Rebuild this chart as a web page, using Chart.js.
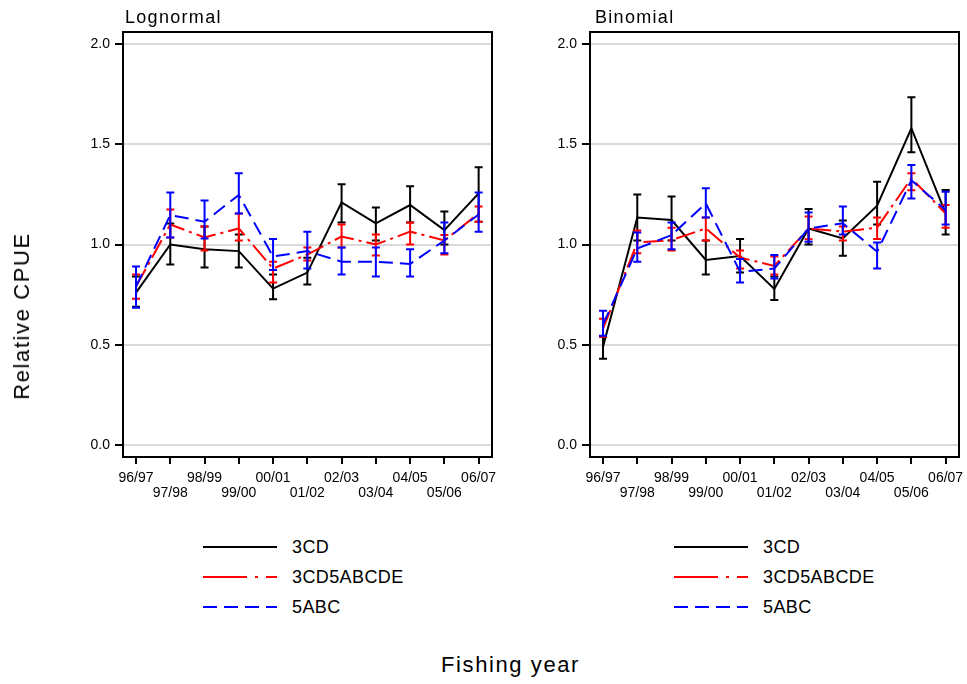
<!DOCTYPE html>
<html>
<head>
<meta charset="utf-8">
<script src="https://cdn.jsdelivr.net/npm/chart.js@4.4.1/dist/chart.umd.min.js"></script>
<style>
  body { margin: 0; background: #fff; font-family: "Liberation Sans", Arial, sans-serif; }
  #wrap { position: relative; width: 967px; height: 684px; overflow: hidden; }
  canvas { position: absolute; top: 0; }
  .panel-title { position: absolute; top: 7px; font-size: 18px; letter-spacing: 1.3px; color: #000; }
  .axis-title { position: absolute; font-size: 22px; letter-spacing: 1.6px; color: #000; white-space: nowrap; }
  .legend { position: absolute; top: 532px; }
  .legend div { height: 30px; display: flex; align-items: center; font-size: 18px; letter-spacing: 0.4px; }
  .legend svg { margin-right: 15px; }
</style>
</head>
<body>
<div id="wrap">
  <canvas id="lognormal" width="500" height="520" style="left:0"></canvas>
  <canvas id="binomial" width="500" height="520" style="left:467px"></canvas>
  <div class="panel-title" style="left:125px">Lognormal</div>
  <div class="panel-title" style="left:595px">Binomial</div>
  <div class="axis-title" style="left:441px; top:652px">Fishing year</div>
  <div class="axis-title" style="left:22px; top:316px; transform: translate(-50%, -50%) rotate(-90deg)">Relative CPUE</div>
  <div class="legend" id="legend-left" style="left:203px"></div>
  <div class="legend" id="legend-right" style="left:674px"></div>
</div>
<script>
const years = ['96/97', '97/98', '98/99', '99/00', '00/01', '01/02', '02/03', '03/04', '04/05', '05/06', '06/07'];
const yTicks = [0, 0.5, 1.0, 1.5, 2.0];
const seriesNames = ['3CD', '3CD5ABCDE', '5ABC'];
const seriesColors = ['#000000', '#ff0000', '#0000ff'];
const seriesDash = [[], [20, 5, 3, 5], [14, 7]];

// Lognormal panel
const logn3CD = [0.76, 1.00, 0.976, 0.967, 0.78, 0.86, 1.21, 1.105, 1.197, 1.072, 1.255];
const logn3CDLo = [0.69, 0.90, 0.885, 0.885, 0.727, 0.80, 1.11, 1.02, 1.11, 1.00, 1.114];
const logn3CDHi = [0.84, 1.105, 1.09, 1.05, 0.85, 0.934, 1.30, 1.185, 1.29, 1.164, 1.385];
const lognAll = [0.79, 1.10, 1.035, 1.08, 0.88, 0.95, 1.04, 1.00, 1.064, 1.02, 1.155];
const lognAllLo = [0.73, 1.035, 0.97, 1.02, 0.81, 0.92, 0.985, 0.945, 1.00, 0.95, 1.114];
const lognAllHi = [0.85, 1.175, 1.09, 1.155, 0.914, 0.985, 1.10, 1.05, 1.11, 1.047, 1.19];
const logn5ABC = [0.79, 1.147, 1.114, 1.247, 0.94, 0.967, 0.914, 0.914, 0.903, 1.02, 1.15];
const logn5ABCLo = [0.685, 1.035, 1.03, 1.155, 0.873, 0.88, 0.85, 0.84, 0.84, 0.956, 1.064];
const logn5ABCHi = [0.89, 1.26, 1.22, 1.355, 1.027, 1.064, 0.985, 0.985, 0.976, 1.11, 1.26];

// Binomial panel
const bin3CD = [0.49, 1.135, 1.122, 0.923, 0.943, 0.778, 1.08, 1.03, 1.194, 1.58, 1.155];
const bin3CDLo = [0.43, 1.02, 1.02, 0.85, 0.86, 0.723, 1.00, 0.944, 1.10, 1.46, 1.05];
const bin3CDHi = [0.54, 1.25, 1.24, 1.02, 1.027, 0.84, 1.177, 1.12, 1.313, 1.734, 1.272];
const binAll = [0.58, 1.01, 1.022, 1.08, 0.935, 0.893, 1.08, 1.064, 1.084, 1.33, 1.155];
const binAllLo = [0.54, 0.956, 0.97, 1.02, 0.88, 0.85, 1.026, 1.02, 1.027, 1.27, 1.084];
const binAllHi = [0.63, 1.07, 1.084, 1.135, 0.97, 0.94, 1.14, 1.09, 1.135, 1.355, 1.197];
const bin5ABC = [0.60, 0.98, 1.047, 1.205, 0.864, 0.88, 1.08, 1.106, 0.964, 1.32, 1.172];
const bin5ABCLo = [0.545, 0.914, 0.976, 1.135, 0.81, 0.83, 1.014, 1.05, 0.88, 1.23, 1.10];
const bin5ABCHi = [0.67, 1.06, 1.11, 1.28, 0.928, 0.948, 1.16, 1.19, 1.01, 1.397, 1.263];

const errorBars = {
  id: 'errorBars',
  afterDatasetDraw(chart, args) {
    const ds = chart.data.datasets[args.index];
    if (!ds.lo) return;
    const { ctx, scales: { x, y } } = chart;
    ctx.save();
    ctx.strokeStyle = ds.borderColor;
    ctx.lineWidth = 2;
    ctx.setLineDash([]);
    ds.lo.forEach((lo, i) => {
      const px = x.getPixelForValue(i);
      const p1 = y.getPixelForValue(lo);
      const p2 = y.getPixelForValue(ds.hi[i]);
      ctx.beginPath();
      ctx.moveTo(px, p1); ctx.lineTo(px, p2);
      ctx.moveTo(px - 4, p1); ctx.lineTo(px + 4, p1);
      ctx.moveTo(px - 4, p2); ctx.lineTo(px + 4, p2);
      ctx.stroke();
    });
    ctx.restore();
  }
};

const frame = {
  id: 'frame',
  afterDraw(chart) {
    const { ctx, chartArea: a } = chart;
    ctx.save();
    ctx.strokeStyle = '#000';
    ctx.lineWidth = 2;
    ctx.strokeRect(a.left, a.top, a.right - a.left, a.bottom - a.top);
    ctx.restore();
  }
};

function makePanel(id, vals, los, his) {
  const datasets = vals.map((v, k) => ({
    label: seriesNames[k],
    data: v.map((y, i) => ({ x: i, y })),
    lo: los[k],
    hi: his[k],
    borderColor: seriesColors[k],
    borderWidth: 2,
    borderDash: seriesDash[k],
    pointRadius: 0,
    tension: 0,
    fill: false,
    order: 3 - k
  }));
  new Chart(document.getElementById(id), {
    type: 'line',
    data: { datasets },
    plugins: [errorBars, frame],
    options: {
      responsive: false,
      animation: false,
      layout: { padding: { top: 32, right: 8, left: 0, bottom: 0 } },
      plugins: { legend: { display: false }, tooltip: { enabled: false } },
      scales: {
        x: {
          type: 'linear',
          min: -0.38,
          max: 10.39,
          afterBuildTicks: s => { s.ticks = years.map((_, i) => ({ value: i })); },
          afterFit: s => { s.height = 63; s.paddingLeft = 0; s.paddingRight = 0; },
          grid: { drawOnChartArea: false, tickLength: 7, tickColor: '#000', tickWidth: 2, lineWidth: 2 },
          border: { color: '#000', width: 2 },
          ticks: {
            autoSkip: false, maxRotation: 0, padding: 7,
            color: '#000',
            font: { family: 'Liberation Sans', size: 14, lineHeight: 1.05 },
            callback: v => (v % 2 ? ['', years[v]] : years[v])
          }
        },
        y: {
          min: -0.06,
          max: 2.06,
          afterBuildTicks: s => { s.ticks = yTicks.map(value => ({ value })); },
          afterFit: s => { s.width = 123; },
          grid: { color: '#d9d9d9', lineWidth: 2, tickColor: '#000', tickLength: 8, tickWidth: 2 },
          border: { color: '#000', width: 2 },
          ticks: {
            padding: 5, color: '#000',
            font: { family: 'Liberation Sans', size: 14 },
            callback: v => v.toFixed(1)
          }
        }
      }
    }
  });
}

makePanel('lognormal', [logn3CD, lognAll, logn5ABC], [logn3CDLo, lognAllLo, logn5ABCLo], [logn3CDHi, lognAllHi, logn5ABCHi]);
makePanel('binomial', [bin3CD, binAll, bin5ABC], [bin3CDLo, binAllLo, bin5ABCLo], [bin3CDHi, binAllHi, bin5ABCHi]);

function buildLegend(el) {
  el.innerHTML = seriesNames.map((name, k) =>
    `<div><svg width="74" height="4"><line x1="0" y1="2" x2="74" y2="2" stroke="${seriesColors[k]}" stroke-width="2" stroke-dasharray="${k === 1 ? '44,8,3,8' : (seriesDash[k].join(',') || 'none')}"/></svg>${name}</div>`
  ).join('');
}
buildLegend(document.getElementById('legend-left'));
buildLegend(document.getElementById('legend-right'));
</script>
</body>
</html>
